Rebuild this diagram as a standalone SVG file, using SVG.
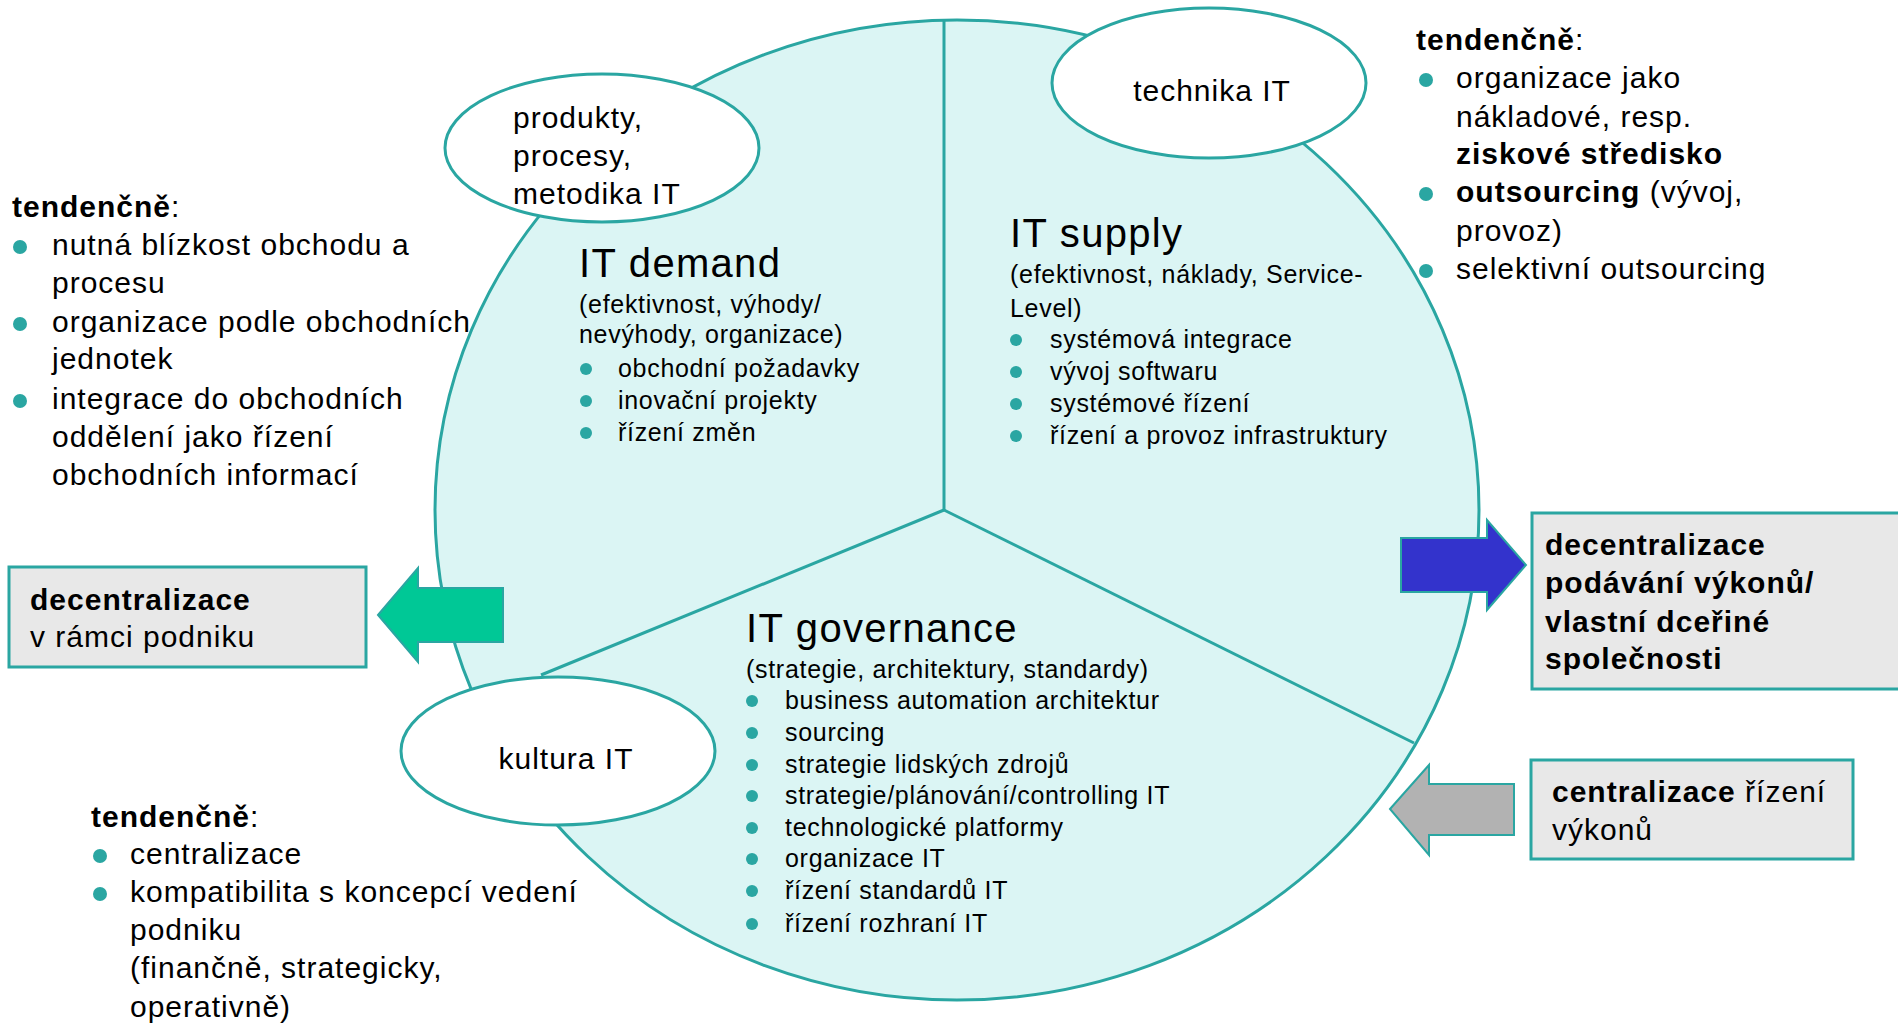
<svg xmlns="http://www.w3.org/2000/svg" width="1898" height="1023" viewBox="0 0 1898 1023">
<style>
text{font-family:"Liberation Sans",Arial,sans-serif;fill:#000}
.t30{font-size:30px;letter-spacing:1px}
.t25{font-size:25px;letter-spacing:0.7px}
.h40{font-size:40px;letter-spacing:1.3px}
.b{font-weight:bold}
.ln{stroke:#2AA6A2;stroke-width:3;fill:none}
.ell{fill:#FFFFFF;stroke:#2AA6A2;stroke-width:3}
.dot{fill:#2AA6A2}
.box{fill:#E8E8E8;stroke:#2AA6A2;stroke-width:3}
</style>
<rect width="1898" height="1023" fill="#FFFFFF"/>

<g id="circle">
<ellipse cx="957" cy="510" rx="522" ry="490" fill="#DBF5F4" stroke="#2AA6A2" stroke-width="3"/>
</g>
<g id="connectors">
<line class="ln" x1="944" y1="20" x2="944" y2="510"/>
<line class="ln" x1="944" y1="510" x2="541" y2="675"/>
<line class="ln" x1="944" y1="510" x2="1414" y2="743"/>
</g>

<g id="ell-produkty">
<ellipse class="ell" cx="602" cy="148" rx="157" ry="74"/>
<text class="t30" x="513" y="128">produkty,</text>
<text class="t30" x="513" y="166">procesy,</text>
<text class="t30" x="513" y="204">metodika IT</text>
</g>
<g id="ell-technika">
<ellipse class="ell" cx="1209" cy="83" rx="157" ry="75"/>
<text class="t30" x="1212" y="101" text-anchor="middle">technika IT</text>
</g>
<g id="ell-kultura">
<ellipse class="ell" cx="558" cy="751" rx="157" ry="74"/>
<text class="t30" x="566" y="769" text-anchor="middle">kultura IT</text>
</g>

<g id="it-demand">
<text class="h40" x="579" y="277">IT demand</text>
<text class="t25" x="579" y="313">(efektivnost, výhody/</text>
<text class="t25" x="579" y="343">nevýhody, organizace)</text>
<circle class="dot" cx="586" cy="369" r="6"/><text class="t25" x="618" y="377">obchodní požadavky</text>
<circle class="dot" cx="586" cy="401" r="6"/><text class="t25" x="618" y="409">inovační projekty</text>
<circle class="dot" cx="586" cy="433" r="6"/><text class="t25" x="618" y="441">řízení  změn</text>
</g>

<g id="it-supply">
<text class="h40" x="1010" y="247">IT supply</text>
<text class="t25" x="1010" y="283">(efektivnost, náklady, Service-</text>
<text class="t25" x="1010" y="317">Level)</text>
<circle class="dot" cx="1016" cy="340" r="6"/><text class="t25" x="1050" y="348">systémová integrace</text>
<circle class="dot" cx="1016" cy="372" r="6"/><text class="t25" x="1050" y="380">vývoj softwaru</text>
<circle class="dot" cx="1016" cy="404" r="6"/><text class="t25" x="1050" y="412">systémové řízení</text>
<circle class="dot" cx="1016" cy="436" r="6"/><text class="t25" x="1050" y="444">řízení  a provoz infrastruktury</text>
</g>

<g id="it-governance">
<text class="h40" x="746" y="642">IT governance</text>
<text class="t25" x="746" y="678">(strategie, architektury,  standardy)</text>
<circle class="dot" cx="752" cy="701" r="6"/><text class="t25" x="785" y="709">business automation architektur</text>
<circle class="dot" cx="752" cy="733" r="6"/><text class="t25" x="785" y="741">sourcing</text>
<circle class="dot" cx="752" cy="765" r="6"/><text class="t25" x="785" y="773">strategie lidských zdrojů</text>
<circle class="dot" cx="752" cy="796" r="6"/><text class="t25" x="785" y="804">strategie/plánování/controlling IT</text>
<circle class="dot" cx="752" cy="828" r="6"/><text class="t25" x="785" y="836">technologické platformy</text>
<circle class="dot" cx="752" cy="859" r="6"/><text class="t25" x="785" y="867">organizace IT</text>
<circle class="dot" cx="752" cy="891" r="6"/><text class="t25" x="785" y="899">řízení  standardů IT</text>
<circle class="dot" cx="752" cy="924" r="6"/><text class="t25" x="785" y="932">řízení  rozhraní  IT</text>
</g>

<g id="tend-left">
<text class="t30" x="12" y="217"><tspan class="b">tendenčně</tspan>:</text>
<circle class="dot" cx="20" cy="247" r="7"/><text class="t30" x="52" y="255">nutná blízkost obchodu a</text>
<text class="t30" x="52" y="293">procesu</text>
<circle class="dot" cx="20" cy="324" r="7"/><text class="t30" x="52" y="332">organizace podle obchodních</text>
<text class="t30" x="52" y="369">jednotek</text>
<circle class="dot" cx="20" cy="401" r="7"/><text class="t30" x="52" y="409">integrace do obchodních</text>
<text class="t30" x="52" y="447">oddělení jako řízení</text>
<text class="t30" x="52" y="485">obchodních informací</text>
</g>

<g id="tend-right">
<text class="t30" x="1416" y="50"><tspan class="b">tendenčně</tspan>:</text>
<circle class="dot" cx="1426" cy="80" r="7"/><text class="t30" x="1456" y="88">organizace jako</text>
<text class="t30" x="1456" y="127">nákladové, resp.</text>
<text class="t30 b" x="1456" y="164">ziskové středisko</text>
<circle class="dot" cx="1426" cy="194" r="7"/><text class="t30" x="1456" y="202"><tspan class="b">outsourcing</tspan> (vývoj,</text>
<text class="t30" x="1456" y="241">provoz)</text>
<circle class="dot" cx="1426" cy="271" r="7"/><text class="t30" x="1456" y="279">selektivní outsourcing</text>
</g>

<g id="tend-bottom">
<text class="t30" x="91" y="827"><tspan class="b">tendenčně</tspan>:</text>
<circle class="dot" cx="100" cy="856" r="7"/><text class="t30" x="130" y="864">centralizace</text>
<circle class="dot" cx="100" cy="894" r="7"/><text class="t30" x="130" y="902">kompatibilita s koncepcí vedení</text>
<text class="t30" x="130" y="940">podniku</text>
<text class="t30" x="130" y="978">(finančně, strategicky,</text>
<text class="t30" x="130" y="1017">operativně)</text>
</g>

<g id="arrow-green">
<polygon points="378,615 418,568 418,588 503,588 503,642 418,642 418,662" fill="#00C896" stroke="#2AA6A2" stroke-width="2"/>
</g>
<g id="box-left">
<rect class="box" x="9" y="567" width="357" height="100"/>
<text class="t30 b" x="30" y="610">decentralizace</text>
<text class="t30" x="30" y="647">v rámci podniku</text>
</g>

<g id="arrow-blue">
<polygon points="1401,538 1487,538 1487,520 1526,565 1487,610 1487,592 1401,592" fill="#3333CC" stroke="#2AA6A2" stroke-width="2"/>
</g>
<g id="box-right1">
<rect class="box" x="1532" y="513" width="380" height="176"/>
<text class="t30 b" x="1545" y="555">decentralizace</text>
<text class="t30 b" x="1545" y="593">podávání výkonů/</text>
<text class="t30 b" x="1545" y="632">vlastní dceřiné</text>
<text class="t30 b" x="1545" y="669">společnosti</text>
</g>

<g id="arrow-gray">
<polygon points="1390,809 1429,765 1429,784 1514,784 1514,835 1429,835 1429,855" fill="#B2B2B2" stroke="#2AA6A2" stroke-width="2"/>
</g>
<g id="box-right2">
<rect class="box" x="1531" y="760" width="322" height="99"/>
<text class="t30" x="1552" y="802"><tspan class="b">centralizace</tspan> řízení</text>
<text class="t30" x="1552" y="840">výkonů</text>
</g>
</svg>
